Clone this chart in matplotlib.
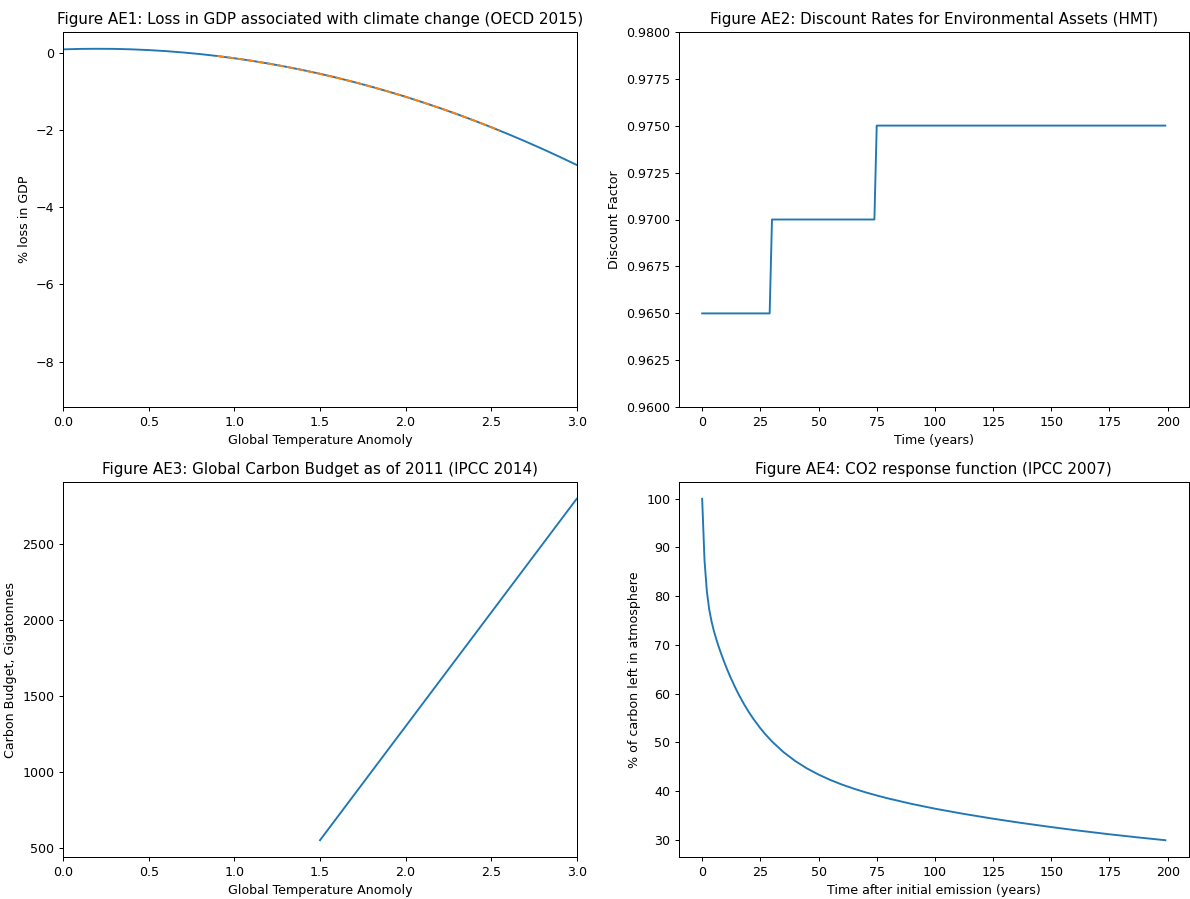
import matplotlib
matplotlib.use("Agg")
import matplotlib.pyplot as plt

# AE1 - GDP loss curve and the OECD range it was fitted to
temp_anomaly = [0.0, 0.1, 0.2, 0.3, 0.4, 0.5, 0.6, 0.7, 0.8, 0.9, 1.0, 1.1, 1.2, 1.3, 1.4, 1.5,
                1.6, 1.7, 1.8, 1.9, 2.0, 2.1, 2.2, 2.3, 2.4, 2.5, 2.6, 2.7, 2.8, 2.9, 3.0,
                3.5, 4.0, 4.5, 5.0]
gdp_loss = [0.100, 0.112, 0.115, 0.112, 0.100, 0.081, 0.054, 0.019, -0.023, -0.073, -0.131,
            -0.196, -0.269, -0.350, -0.438, -0.534, -0.638, -0.750, -0.869, -0.996, -1.130,
            -1.273, -1.423, -1.580, -1.746, -1.919, -2.100, -2.288, -2.484, -2.688, -2.899,
            -4.072, -5.438, -6.995, -8.745]
oecd_temp = [0.9, 1.0, 1.1, 1.2, 1.3, 1.4, 1.5, 1.6, 1.7, 1.8, 1.9, 2.0, 2.1, 2.2, 2.3, 2.4, 2.5, 2.55]
oecd_loss = [-0.073, -0.131, -0.196, -0.269, -0.350, -0.438, -0.534, -0.638, -0.750, -0.869,
             -0.996, -1.130, -1.273, -1.423, -1.580, -1.746, -1.919, -2.008]

# AE2 - HMT discount factors
years = [0, 29, 30, 74, 75, 199]
discount = [0.965, 0.965, 0.970, 0.970, 0.975, 0.975]

# AE3 - carbon budget
budget_temp = [1.5, 2.0, 3.0]
budget_gt = [550, 1300, 2800]

# AE4 - CO2 left in atmosphere
emit_years = [0, 1, 2, 3, 4, 5, 6, 7, 8, 9, 10, 11, 12, 14, 15, 16, 18, 20, 22, 25, 27, 30,
              35, 40, 45, 50, 55, 60, 65, 70, 75, 80, 90, 100, 112, 125, 137, 150, 162, 175, 187, 199]
co2_left = [100.0, 87.47, 81.08, 77.37, 74.88, 72.93, 71.29, 69.78, 68.39, 67.09, 65.84, 64.66,
            63.53, 61.46, 60.48, 59.55, 57.82, 56.24, 54.81, 52.88, 51.72, 50.17, 47.96, 46.15,
            44.64, 43.37, 42.28, 41.33, 40.50, 39.75, 39.08, 38.46, 37.35, 36.37, 35.33, 34.31,
            33.45, 32.59, 31.85, 31.11, 30.48, 29.89]

W, H = 1190, 899
DPI = 91
fig = plt.figure(figsize=(W / DPI, H / DPI), dpi=DPI)

def box(x0, y0, x1, y1):
    return [x0 / W, 1 - y1 / H, (x1 - x0) / W, (y1 - y0) / H]

ax1 = fig.add_axes(box(63.3, 31.7, 576.7, 407.3))
ax2 = fig.add_axes(box(679, 31.7, 1188.5, 407.3))
ax3 = fig.add_axes(box(63.3, 481.7, 576.7, 857.3))
ax4 = fig.add_axes(box(679, 481.7, 1188.5, 857.3))

ax1.plot(temp_anomaly, gdp_loss)
ax1.plot(oecd_temp, oecd_loss, '--')
ax1.set_xlim(0, 3)
ax1.set_title("Figure AE1: Loss in GDP associated with climate change (OECD 2015)")
ax1.set_xlabel("Global Temperature Anomoly")
ax1.set_ylabel("% loss in GDP")

ax2.plot(years, discount)
ax2.set_ylim(0.96, 0.98)
ax2.set_title("Figure AE2: Discount Rates for Environmental Assets (HMT)")
ax2.set_xlabel("Time (years)")
ax2.set_ylabel("Discount Factor")

ax3.plot(budget_temp, budget_gt)
ax3.set_xlim(0, 3)
ax3.set_title("Figure AE3: Global Carbon Budget as of 2011 (IPCC 2014)")
ax3.set_xlabel("Global Temperature Anomoly")
ax3.set_ylabel("Carbon Budget, Gigatonnes")

ax4.plot(emit_years, co2_left)
ax4.set_title("Figure AE4: CO2 response function (IPCC 2007)")
ax4.set_xlabel("Time after initial emission (years)")
ax4.set_ylabel("% of carbon left in atmosphere")

fig.savefig("out.png", dpi=DPI)
